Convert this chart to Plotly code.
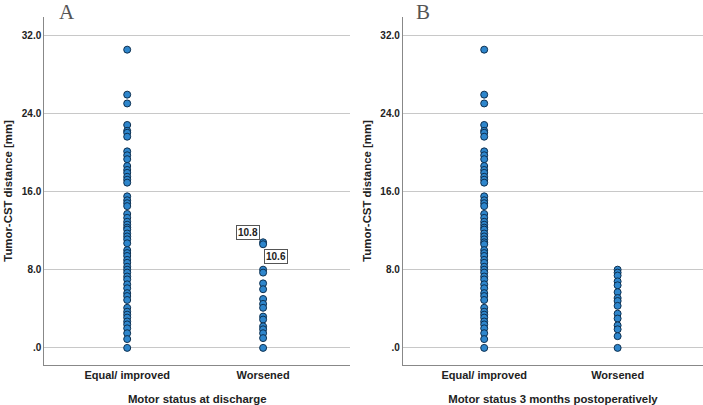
import plotly.graph_objects as go
from plotly.subplots import make_subplots

categories = ["Equal/ improved", "Worsened"]

# panel A - motor status at discharge
a_equal = [30.5, 25.9, 25.0, 22.8, 22.2, 22.0, 21.6, 20.1, 19.7, 19.3, 18.6, 18.2, 17.9,
           17.5, 17.2, 16.9, 15.5, 15.1, 14.8, 14.5, 13.7, 13.3, 12.9, 12.6, 12.3, 12.1,
           11.7, 11.4, 11.1, 10.7, 10.0, 9.7, 9.4, 9.0, 8.7, 8.3, 8.0, 7.7, 7.3, 7.0,
           6.5, 6.1, 5.6, 5.3, 4.9, 4.1, 3.7, 3.4, 3.1, 2.7, 2.4, 2.0, 1.5, 0.9, 0.0]
a_worse = [10.8, 10.6, 8.0, 7.7, 6.6, 6.0, 5.0, 4.5, 4.1, 3.2, 2.9, 2.2, 1.9, 1.5, 1.0, 0.0]

# panel B - motor status 3 months postoperatively
b_equal = [30.5, 25.9, 25.0, 22.8, 22.2, 22.0, 21.6, 20.1, 19.7, 19.3, 18.6, 18.2, 17.9,
           17.5, 17.2, 16.9, 15.5, 15.1, 14.8, 14.5, 13.7, 13.3, 12.9, 12.6, 12.3, 12.1,
           11.7, 11.4, 11.1, 10.8, 10.6, 10.0, 9.7, 9.4, 9.0, 8.7, 8.3, 8.0, 7.7, 7.3,
           7.0, 6.5, 6.1, 5.6, 5.3, 4.9, 4.1, 3.7, 3.4, 3.1, 2.7, 2.4, 2.0, 1.5, 0.9, 0.0]
b_worse = [8.0, 7.7, 7.4, 6.8, 6.4, 5.7, 5.1, 4.8, 4.3, 3.5, 3.0, 2.3, 1.9, 1.2, 0.0]

labelled = [10.8, 10.6]
tick_vals = [0, 8, 16, 24, 32]
tick_text = [".0", "8.0", "16.0", "24.0", "32.0"]

FONT = "Liberation Sans, Arial"
DARK = "#222"

fig = make_subplots(rows=1, cols=2)

marker = dict(size=7, color="#2e86cc", line=dict(color="#0d2f4f", width=1))
panels = [(1, a_equal, a_worse), (2, b_equal, b_worse)]
for col, eq, wo in panels:
    fig.add_trace(go.Scatter(x=[0] * len(eq), y=eq, mode="markers", marker=marker,
                             showlegend=False), row=1, col=col)
    fig.add_trace(go.Scatter(x=[1] * len(wo), y=wo, mode="markers", marker=marker,
                             showlegend=False), row=1, col=col)

for col in [1, 2]:
    fig.update_xaxes(range=[-0.61, 1.64], tickvals=[0, 1],
                     ticktext=["<b>%s</b>" % c for c in categories],
                     showgrid=False, zeroline=False, showline=True, linecolor="#888",
                     ticks="", automargin=False,
                     tickfont=dict(family=FONT, size=11, color=DARK),
                     row=1, col=col)
    fig.update_yaxes(range=[-1.74, 33.84], tickvals=tick_vals,
                     ticktext=["<b>%s</b>" % t for t in tick_text],
                     showgrid=True, gridcolor="#c8c8c8", zeroline=False, showline=True,
                     linecolor="#888", ticks="", automargin=False,
                     tickfont=dict(family=FONT, size=10, color=DARK),
                     title=dict(text="<b>Tumor-CST distance [mm]</b>", standoff=6,
                                font=dict(family=FONT, size=11.4, color=DARK)),
                     row=1, col=col)

fig.update_xaxes(title=dict(text="<b>Motor status at discharge</b>", standoff=14,
                            font=dict(family=FONT, size=11.4, color=DARK)),
                 domain=[0.063, 0.498], row=1, col=1)
fig.update_xaxes(title=dict(text="<b>Motor status 3 months postoperatively</b>", standoff=14,
                            font=dict(family=FONT, size=11.4, color=DARK)),
                 domain=[0.573, 1.0], row=1, col=2)
fig.update_yaxes(domain=[0.099, 0.958])

for ys, (dx, dy) in zip(labelled, [(-15, 10), (13, -12)]):
    fig.add_annotation(x=1, y=ys, xref="x", yref="y", text="<b>%.1f</b>" % ys,
                       showarrow=False, xshift=dx, yshift=dy, bgcolor="white",
                       bordercolor="#555", borderwidth=1, borderpad=1,
                       font=dict(family=FONT, size=10, color=DARK))

for letter, xp in [("A", 0.081), ("B", 0.589)]:
    fig.add_annotation(x=xp, y=1.005, xref="paper", yref="paper", text=letter,
                       showarrow=False, xanchor="left", yanchor="top",
                       font=dict(family="Liberation Serif, DejaVu Serif", size=21, color="#555"))

fig.update_layout(width=703, height=405, margin=dict(l=0, r=0, t=0, b=0),
                  plot_bgcolor="white", paper_bgcolor="white")
fig.write_html("out.html", config={"displayModeBar": False},
               post_script="document.body.style.margin='0px';")
